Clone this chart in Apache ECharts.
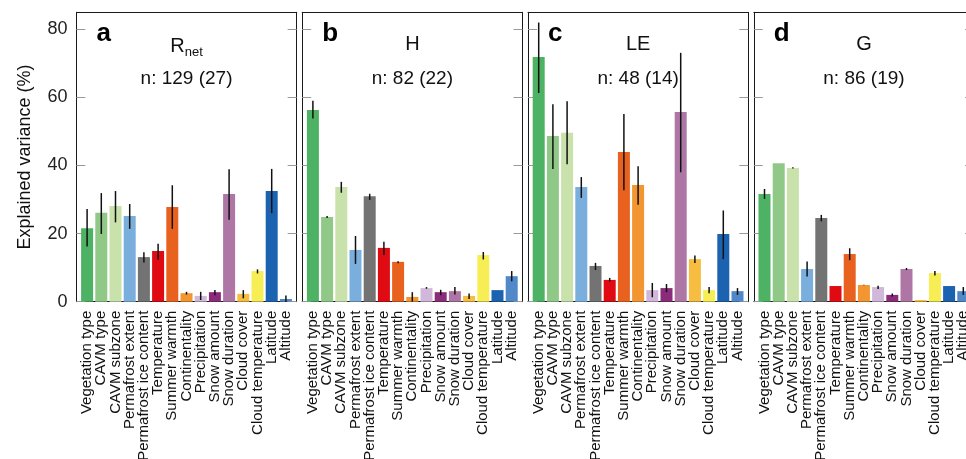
<!DOCTYPE html>
<html>
<head>
<meta charset="utf-8">
<script src="https://cdn.jsdelivr.net/npm/echarts@6/dist/echarts.min.js"></script>
<style>
html,body{margin:0;padding:0;background:#fff;}
#chart{width:966px;height:459px;}
</style>
</head>
<body>
<div id="chart"></div>
<script>
const categories = ['Vegetation type','CAVM type','CAVM subzone','Permafrost extent','Permafrost ice content','Temperature','Summer warmth','Continentality','Precipitation','Snow amount','Snow duration','Cloud cover','Cloud temperature','Latitude','Altitude'];
const barColors = ['#4db264','#90c888','#c9e1ab','#79aedd','#737373','#df0a12','#e9611f','#f39530','#d1b8da','#8a2c79','#ae76a4','#f6bd40','#f7ee55','#1b63b0','#5088c9'];

const panelLetters = ['a','b','c','d'];
const panelTitles = ['{m|R}{s|net}','{m|H}','{m|LE}','{m|G}'];
const panelCounts = ['n: 129 (27)','n: 82 (22)','n: 48 (14)','n: 86 (19)'];
const yTicks = [0,20,40,60,80];

// Panel a: Rnet
const rnetValues = [21.6,26.1,28.1,25.2,13.1,14.9,27.8,2.5,1.7,2.8,31.6,2.3,9.0,32.5,0.8];
const rnetLower  = [16.2,19.9,23.3,21.4,11.5,12.3,21.4,2.1,0.5,1.9,24.1,1.0,8.3,26.0,0.0];
const rnetUpper  = [27.2,31.9,32.5,28.7,14.5,17.0,34.2,2.9,2.9,3.4,38.9,3.4,9.5,39.0,1.8];
// Panel b: H
const hValues = [56.3,24.9,33.7,15.2,31.0,15.8,11.7,1.4,4.0,2.8,3.1,1.7,13.7,3.4,7.5];
const hLower  = [53.8,24.6,32.0,11.1,29.9,13.7,11.3,0.0,3.8,1.9,2.1,0.8,12.4,3.4,6.0];
const hUpper  = [59.0,25.2,35.2,19.3,31.7,17.6,11.9,2.8,4.3,3.5,4.3,2.4,14.6,3.4,9.0];
// Panel c: LE
const leValues = [71.9,48.7,49.6,33.7,10.5,6.4,44.0,34.3,3.4,4.0,55.7,12.5,3.4,19.9,3.1];
const leLower  = [61.3,39.0,40.4,30.5,9.3,5.9,32.7,28.5,1.3,2.8,38.0,11.4,2.5,12.5,2.0];
const leUpper  = [82.0,58.0,58.9,36.6,11.4,7.0,55.1,39.8,5.5,5.2,73.1,13.6,4.3,26.8,4.0];
// Panel d: G
const gValues = [31.6,40.7,39.3,9.6,24.6,4.6,14.0,4.9,4.3,2.0,9.6,0.5,8.4,4.6,3.1];
const gLower  = [30.2,40.7,39.1,7.4,23.6,4.6,12.2,4.8,3.7,1.5,9.3,0.5,7.7,4.6,2.0];
const gUpper  = [33.1,40.7,39.5,11.8,25.5,4.6,15.7,5.0,4.7,2.4,9.9,0.5,9.0,4.6,4.3];

const panelValues = [rnetValues,hValues,leValues,gValues];
const panelLower = [rnetLower,hLower,leLower,gLower];
const panelUpper = [rnetUpper,hUpper,leUpper,gUpper];

// layout
const frameLefts = [76.4,302.2,528.0,753.8];
const frameWidth = 220.3;
const frameTop = 12.3;
const frameHeight = 289.4;
const innerPad = 3.6;
const innerWidth = 213;
const yMax = 85;

const option = {
  animation:false,
  backgroundColor:'#fff',
  textStyle:{fontFamily:'Liberation Sans'},
  grid:[], xAxis:[], yAxis:[], series:[], title:[]
};

for (let p=0;p<4;p++){
  const L = frameLefts[p];
  option.grid.push({left:L, top:frameTop, width:frameWidth, height:frameHeight, containLabel:false, outerBoundsMode:'none'});
  option.grid.push({left:L+innerPad, top:frameTop, width:innerWidth, height:frameHeight, containLabel:false, outerBoundsMode:'none'});
  const fg = 2*p, ig = 2*p+1;
  const frameX = (pos)=>({gridIndex:fg, type:'value', min:0, max:1, position:pos,
    axisLine:{show:true, onZero:false, lineStyle:{color:'#1a1a1a', width:1}},
    axisTick:{show:false}, axisLabel:{show:false}, splitLine:{show:false}});
  option.xAxis.push(frameX('bottom'));
  option.xAxis.push(frameX('top'));
  option.xAxis.push({gridIndex:ig, type:'category', data:categories,
    axisLine:{show:false}, axisTick:{show:false}, splitLine:{show:false},
    axisLabel:{rotate:90, interval:0, fontSize:15, color:'#111', margin:9}});
  const frameY = (pos, labels)=>({gridIndex:fg, type:'value', min:0, max:yMax, position:pos,
    axisLine:{show:true, onZero:false, lineStyle:{color:'#1a1a1a', width:1}},
    axisTick:{show:true, inside:true, length:9, customValues:yTicks, lineStyle:{color:'#9a9a9a', width:1}},
    axisLabel:{show:labels, margin:9, fontSize:18, color:'#222', customValues:yTicks},
    splitLine:{show:false},
    name: labels ? 'Explained variance (%)' : '',
    nameLocation:'middle', nameGap:42, nameRotate:90,
    nameTextStyle:{fontSize:18, color:'#111'}});
  option.yAxis.push(frameY('left', p===0));
  option.yAxis.push(frameY('right', false));
  option.yAxis.push({gridIndex:ig, type:'value', min:0, max:yMax, show:false});
  const xi = 3*p+2, yi = 3*p+2;
  option.series.push({type:'bar', xAxisIndex:xi, yAxisIndex:yi, barWidth:12, z:3,
    data: panelValues[p].map((v,i)=>({value:v, itemStyle:{color:barColors[i]}}))});
  const lo = panelLower[p], hi = panelUpper[p];
  option.series.push({type:'custom', xAxisIndex:xi, yAxisIndex:yi, z:4,
    data: lo.map((l,i)=>[i,l,hi[i]]),
    encode:{x:0, y:[1,2]},
    renderItem:(params, api)=>{
      const a = api.coord([api.value(0), api.value(1)]);
      const b = api.coord([api.value(0), api.value(2)]);
      if (Math.abs(a[1]-b[1])<0.5) return null;
      return {type:'line', shape:{x1:a[0], y1:a[1], x2:b[0], y2:b[1]},
        style:{stroke:'#111', lineWidth:1.5}};
    }});
  option.title.push({text:panelLetters[p], left:L+20, top:21, padding:0,
    textStyle:{fontSize:26, fontWeight:'bold', color:'#000'}});
  option.title.push({text:panelTitles[p], left:L+frameWidth/2, textAlign:'center', top:34, padding:0,
    textStyle:{fontWeight:'normal', rich:{m:{fontSize:20, fontWeight:'normal', color:'#111'}, s:{fontSize:13, fontWeight:'normal', color:'#111', padding:[12,0,0,0]}}}});
  option.title.push({text:panelCounts[p], left:L+frameWidth/2, textAlign:'center', top:69, padding:0,
    textStyle:{fontSize:19, fontWeight:'normal', color:'#111'}});
}

const chart = echarts.init(document.getElementById('chart'));
chart.setOption(option);
</script>
</body>
</html>
